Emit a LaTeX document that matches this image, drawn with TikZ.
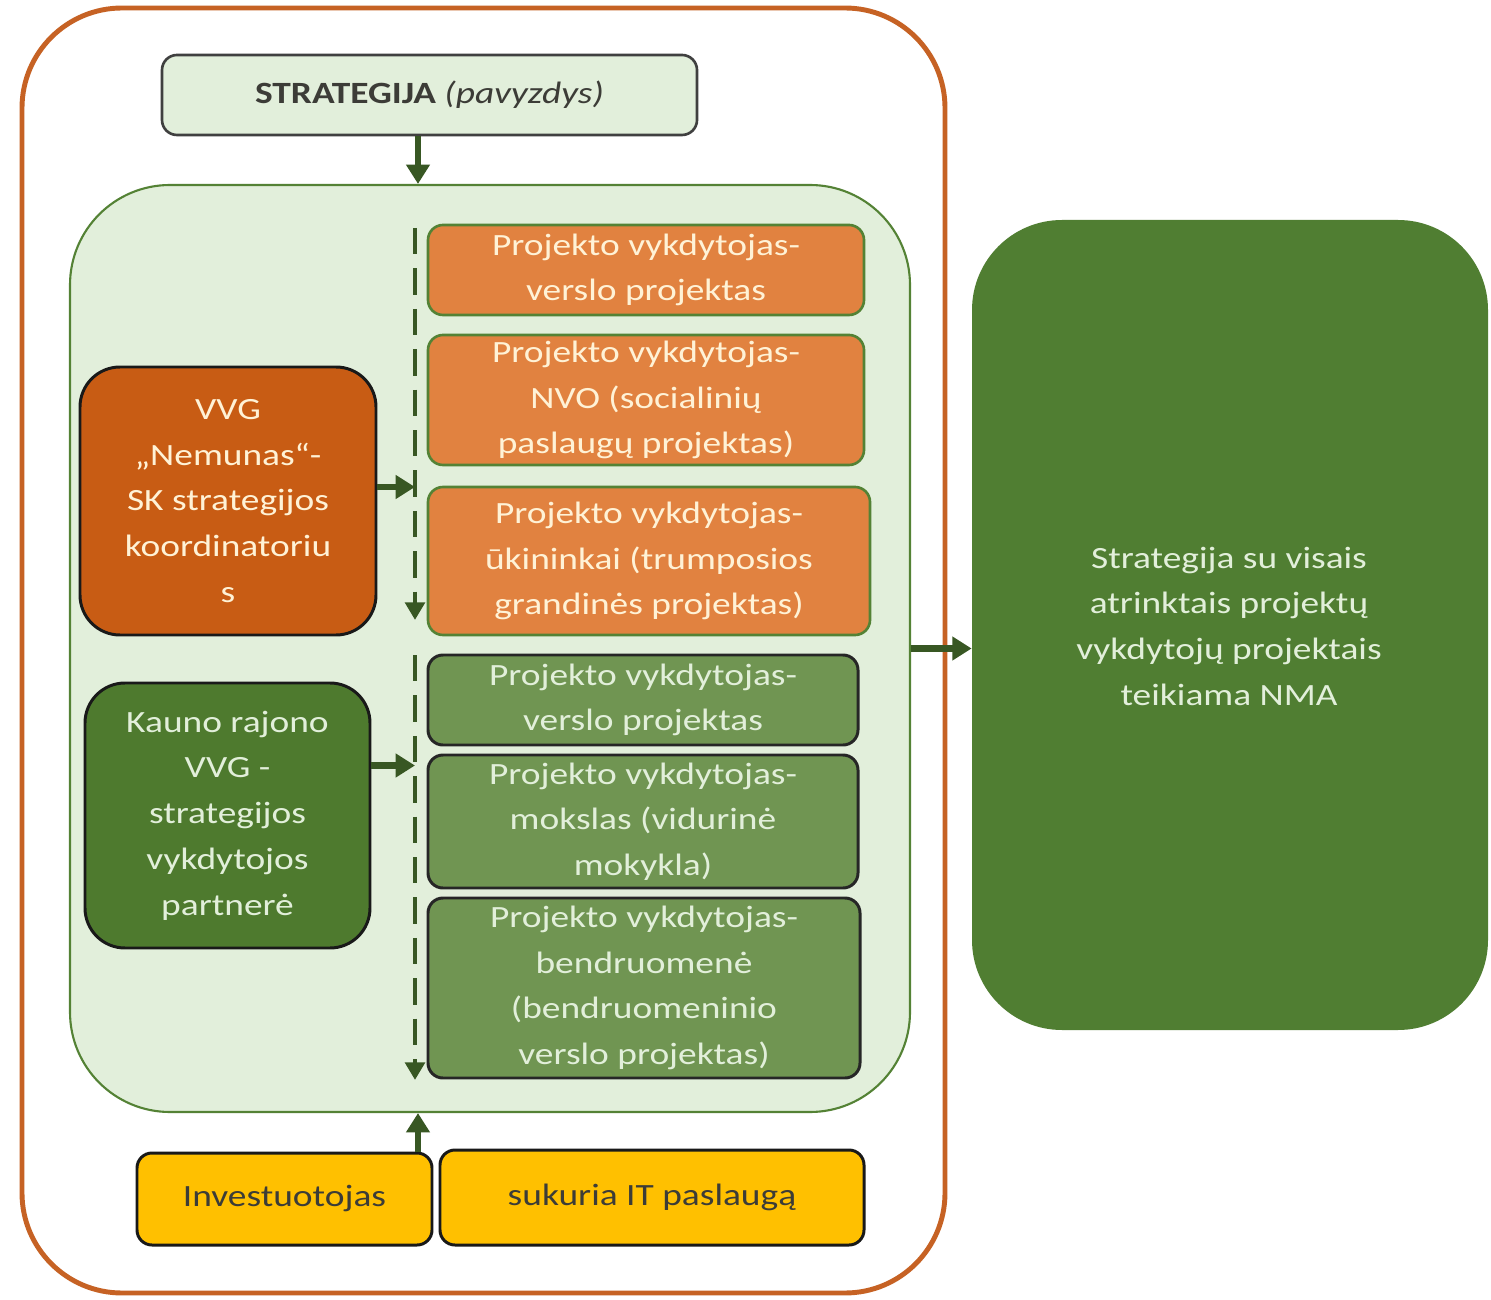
\documentclass[tikz,border=0pt]{standalone}
\usepackage{fontspec}
\setmainfont[FakeStretch=1.21]{Carlito}
\usetikzlibrary{arrows.meta}
\definecolor{outerOr}{RGB}{198,98,36}
\definecolor{paleGr}{RGB}{226,239,219}
\definecolor{midGr}{RGB}{84,130,53}
\definecolor{boxOr}{RGB}{225,130,64}
\definecolor{deepOr}{RGB}{200,92,20}
\definecolor{darkGrFill}{RGB}{78,122,46}
\definecolor{grBox}{RGB}{112,149,82}
\definecolor{rightGr}{RGB}{80,126,50}
\definecolor{arrGr}{RGB}{56,87,35}
\definecolor{cream}{RGB}{255,242,214}
\definecolor{paleTxt}{RGB}{226,239,218}
\definecolor{yel}{RGB}{255,192,0}
\definecolor{darkTxt}{RGB}{60,60,55}
\newcommand{\mfs}{\fontsize{17.6pt}{26pt}\selectfont}
\begin{document}
\begin{tikzpicture}[x=0.02cm,y=-0.02cm,
  sz/.style 2 args={minimum width=#1*0.02cm, minimum height=#2*0.02cm},
  bx/.style={inner sep=0pt, align=center, font=\mfs, rounded corners=0.3cm},
  orbox/.style={bx, draw=midGr, line width=1.5pt, fill=boxOr, text=cream},
  grbox/.style={bx, draw=black!85, line width=1.7pt, fill=grBox, text=paleTxt},
  yelbox/.style={bx, draw=black!90, line width=1.7pt, fill=yel, text=darkTxt},
  arr/.style={draw=arrGr, line width=3.5pt, -{Triangle[length=11pt,width=13pt]}},
  dashln/.style={draw=arrGr, line width=2.8pt, dash pattern=on 15pt off 8pt, -{Triangle[length=10pt,width=11pt]}}
]
\useasboundingbox (0,0) rectangle (1491,1300);
\fill[white] (0,0) rectangle (1491,1300);

% containers
\node[draw=outerOr, line width=2.8pt, rounded corners=2cm, sz={923}{1285}] (outer) at (483.5,650.5) {};
\node[bx, draw=midGr, line width=1.2pt, fill=paleGr, rounded corners=2cm, sz={840}{927}] (inner) at (490,648.5) {};

% top strategy
\node[bx, draw=black!75, line width=1.5pt, fill=paleGr, text=darkTxt, sz={535}{80}] (strat) at (429.5,95) {\textbf{STRATEGIJA} \textit{(pavyzdys)}};

% orange project boxes
\node[orbox, sz={436}{90}] (o1) at (646,270) {Projekto vykdytojas-\\verslo projektas};
\node[orbox, sz={436}{130}] (o2) at (646,400) {Projekto vykdytojas-\\NVO (socialinių\\paslaugų projektas)};
\node[orbox, sz={442}{148}] (o3) at (649,561) {Projekto vykdytojas-\\ūkininkai (trumposios\\grandinės projektas)};

% left actors
\node[bx, draw=black!90, line width=1.7pt, fill=deepOr, text=cream, rounded corners=0.8cm, sz={296}{268}] (vvg) at (228,501) {VVG\\„Nemunas“-\\SK strategijos\\koordinatoriu\\s};
\node[bx, draw=black!90, line width=1.7pt, fill=darkGrFill, text=paleTxt, rounded corners=0.8cm, sz={285}{265}] (kauno) at (227.5,815.5) {Kauno rajono\\VVG -\\strategijos\\vykdytojos\\partnerė};

% green project boxes
\node[grbox, sz={430}{90}] (g1) at (643,700) {Projekto vykdytojas-\\verslo projektas};
\node[grbox, sz={430}{133}] (g2) at (643,821.5) {Projekto vykdytojas-\\mokslas (vidurinė\\mokykla)};
\node[grbox, sz={432}{180}] (g3) at (644,988) {Projekto vykdytojas-\\bendruomenė\\(bendruomeninio\\verslo projektas)};

% right result
\node[bx, fill=rightGr, text=paleTxt, rounded corners=1.8cm, sz={516}{810}] (res) at (1230,625) {};
\node[bx, text=paleTxt] (restxt) at (1229,626) {Strategija su visais\\atrinktais projektų\\vykdytojų projektais\\teikiama NMA};

% bottom
\node[yelbox, sz={295}{92}] (inv) at (284.5,1199) {Investuotojas};
\node[yelbox, sz={424}{95}] (suk) at (652,1197.5) {sukuria IT paslaugą};

% helper coordinates
\coordinate (ax) at (418,0);
\coordinate (d1s) at (415,228);
\coordinate (d1e) at (415,620);
\coordinate (d2s) at (415,655);
\coordinate (d2e) at (415,1080);

% connectors
\draw[arr] (strat.south -| ax) -- (inner.north -| ax);
\draw[dashln] (d1s) -- (d1e);
\draw[dashln] (d2s) -- (d2e);
\draw[arr] ([yshift=0.28cm]vvg.east) -- ([yshift=0.28cm]vvg.east -| d1s);
\draw[arr] ([yshift=1cm]kauno.east) -- ([yshift=1cm]kauno.east -| d2s);
\draw[arr] (inner.east) -- (inner.east -| res.west);
\draw[arr] (inv.north -| ax) -- (inner.south -| ax);
\end{tikzpicture}
\end{document}
